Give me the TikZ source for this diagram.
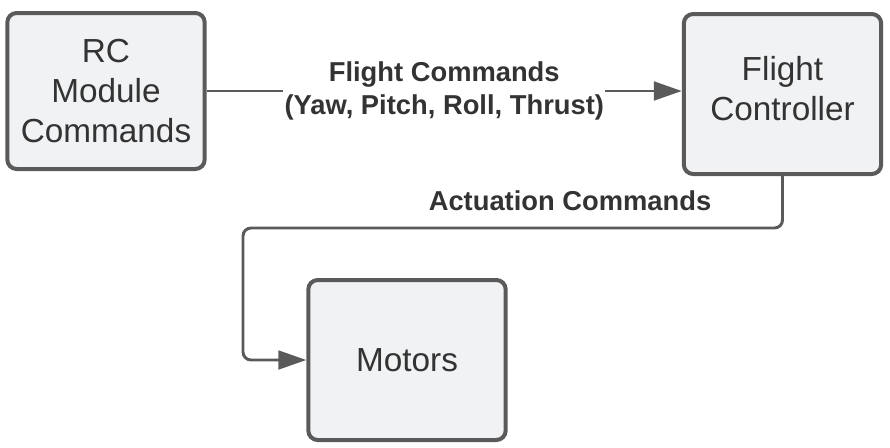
\documentclass[tikz,border=0pt]{standalone}
\usepackage{fontspec}
\setmainfont{Liberation Sans}
\usetikzlibrary{arrows.meta,positioning}
\definecolor{edgegray}{HTML}{5A5A5A}
\definecolor{boxfill}{HTML}{F1F2F4}
\definecolor{textgray}{HTML}{333333}

\begin{document}
\begin{tikzpicture}[x=0.75pt, y=-0.75pt]
% Define styles
\tikzstyle{block} = [rectangle, rounded corners=7pt, minimum width=148pt, minimum height=120pt, align=center, draw=edgegray, line width=3pt, fill=boxfill, text=textgray, font=\fontsize{25}{30}\selectfont]
\tikzstyle{arrow} = [draw=edgegray, line width=2.2pt, -{Triangle[length=21pt,width=14pt]}]
\tikzstyle{lbl} = [text=textgray, font=\fontsize{20.5}{24.75}\selectfont\bfseries, align=center]

\useasboundingbox (0,0) rectangle (890,447);

% Create nodes
\node (rc) [block, minimum height=117pt] at (106,91) {RC\\Module\\Commands};
\node (fc) [block, text depth=9pt] at (782.5,94) {Flight\\Controller};
\node (motors) [block] at (407,360) {Motors};

% Bend of the actuation line
\coordinate (turn) at (243,228);

% Draw arrows
\draw [arrow] (rc.east) -- node[lbl, fill=white, inner xsep=1pt] {Flight Commands\\(Yaw, Pitch, Roll, Thrust)} (rc.east -| fc.west);
\draw [arrow, rounded corners=6pt] (fc.south) |- (turn) |- (motors.west);
\node (act) [lbl] at (570,201) {Actuation Commands};
\end{tikzpicture}
\end{document}
